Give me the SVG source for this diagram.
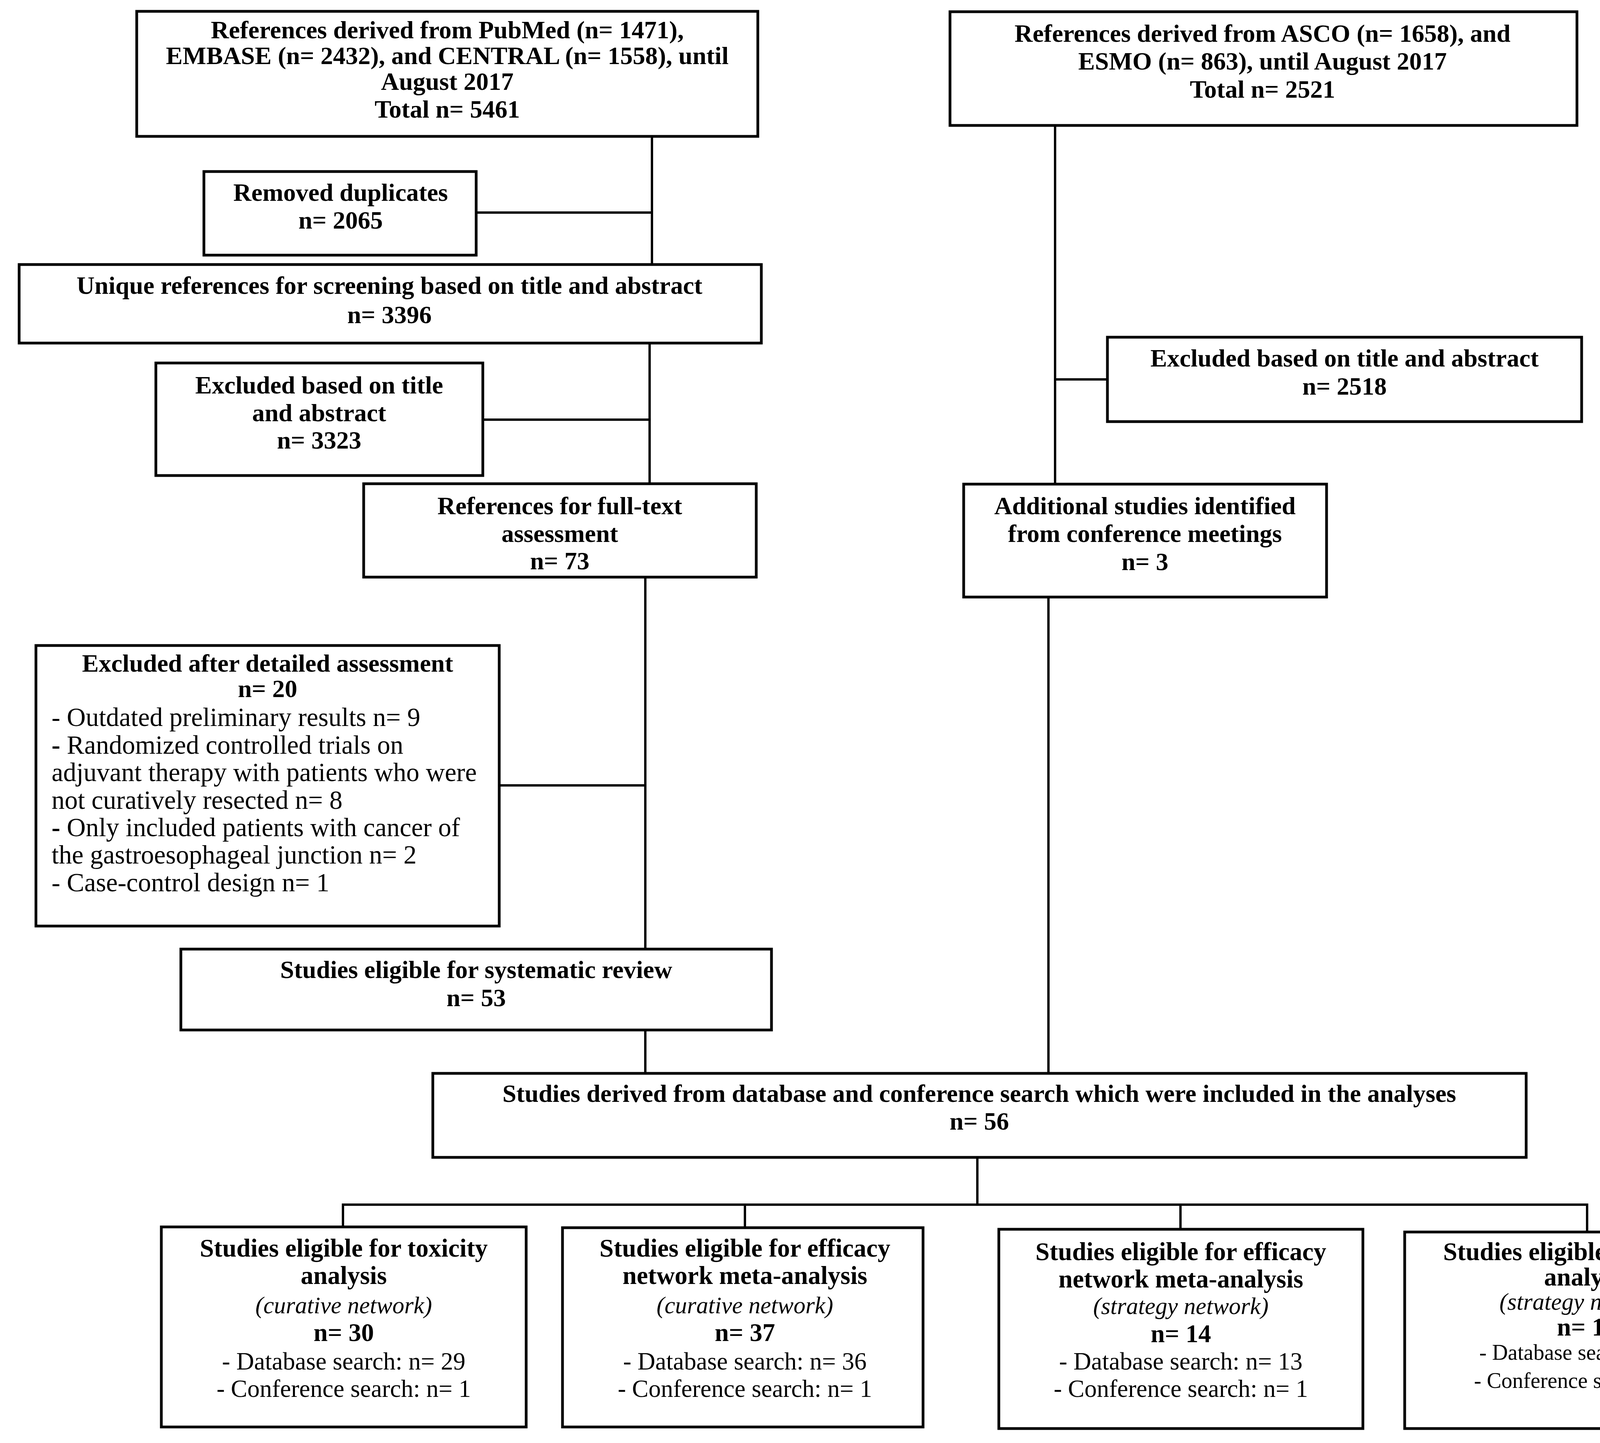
<svg xmlns="http://www.w3.org/2000/svg" width="4550" height="3693" viewBox="0 0 4550 3693">
<style>
.box{fill:#fff;stroke:#000;stroke-width:7}
.ln{stroke:#000;stroke-width:6;fill:none}
text{font-family:"Liberation Serif","Times New Roman",serif;fill:#000}
.b{font-weight:bold;font-size:64px;text-anchor:middle}
.r{font-weight:normal;font-size:67px}
.rc{font-weight:normal;font-size:63px;text-anchor:middle}
.rs{font-weight:normal;font-size:56px;text-anchor:middle}
.i{font-style:italic;font-weight:normal;font-size:61px;text-anchor:middle}
.bb{font-weight:bold;font-size:65px;text-anchor:middle}
</style>
<rect x="0" y="0" width="4550" height="3693" fill="#fff"/>
<g id="connectors">
<line class="ln" x1="1669" y1="350" x2="1669" y2="677"/>
<line class="ln" x1="1219" y1="544" x2="1669" y2="544"/>
<line class="ln" x1="1663" y1="878" x2="1663" y2="1238"/>
<line class="ln" x1="1236" y1="1074" x2="1663" y2="1074"/>
<line class="ln" x1="1652" y1="1477" x2="1652" y2="2428"/>
<line class="ln" x1="1278" y1="2010" x2="1652" y2="2010"/>
<line class="ln" x1="1652" y1="2636" x2="1652" y2="2747"/>
<line class="ln" x1="2701" y1="321" x2="2701" y2="1239"/>
<line class="ln" x1="2701" y1="971" x2="2835" y2="971"/>
<line class="ln" x1="2684" y1="1528" x2="2684" y2="2747"/>
<line class="ln" x1="2502" y1="2962" x2="2502" y2="3083"/>
<line class="ln" x1="875" y1="3083" x2="4066" y2="3083"/>
<line class="ln" x1="878" y1="3083" x2="878" y2="3140"/>
<line class="ln" x1="1907" y1="3083" x2="1907" y2="3142"/>
<line class="ln" x1="3022" y1="3083" x2="3022" y2="3146"/>
<line class="ln" x1="4063" y1="3083" x2="4063" y2="3153"/>
</g>
<g id="pubmed">
<rect class="box" x="350" y="29" width="1590" height="320"/>
<text class="b" x="1145" y="98">References derived from PubMed (n= 1471),</text>
<text class="b" x="1145" y="164">EMBASE (n= 2432), and CENTRAL (n= 1558), until</text>
<text class="b" x="1145" y="230">August 2017</text>
<text class="b" x="1145" y="301">Total n= 5461</text>
</g>
<g id="asco">
<rect class="box" x="2432" y="30" width="1605" height="291"/>
<text class="b" x="3232" y="107">References derived from ASCO (n= 1658), and</text>
<text class="b" x="3232" y="178">ESMO (n= 863), until August 2017</text>
<text class="b" x="3232" y="250">Total n= 2521</text>
</g>
<g id="duplicates">
<rect class="box" x="522" y="439" width="697" height="214"/>
<text class="b" x="872" y="514">Removed duplicates</text>
<text class="b" x="872" y="585">n= 2065</text>
</g>
<g id="unique">
<rect class="box" x="49" y="677" width="1900" height="201"/>
<text class="b" x="997" y="752">Unique references for screening based on title and abstract</text>
<text class="b" x="997" y="827">n= 3396</text>
</g>
<g id="excluded-title-left">
<rect class="box" x="399" y="929" width="837" height="288"/>
<text class="b" x="817" y="1007">Excluded based on title</text>
<text class="b" x="817" y="1078">and abstract</text>
<text class="b" x="817" y="1148">n= 3323</text>
</g>
<g id="excluded-title-right">
<rect class="box" x="2835" y="863" width="1214" height="216"/>
<text class="b" x="3442" y="938">Excluded based on title and abstract</text>
<text class="b" x="3442" y="1010">n= 2518</text>
</g>
<g id="fulltext">
<rect class="box" x="931" y="1238" width="1005" height="239"/>
<text class="b" x="1433" y="1316">References for full-text</text>
<text class="b" x="1433" y="1387">assessment</text>
<text class="b" x="1433" y="1457">n= 73</text>
</g>
<g id="additional">
<rect class="box" x="2467" y="1239" width="929" height="289"/>
<text class="b" x="2931" y="1316">Additional studies identified</text>
<text class="b" x="2931" y="1387">from conference meetings</text>
<text class="b" x="2931" y="1459">n= 3</text>
</g>
<g id="excluded-detailed">
<rect class="box" x="92" y="1652" width="1186" height="718"/>
<text class="b" x="685" y="1719">Excluded after detailed assessment</text>
<text class="b" x="685" y="1784">n= 20</text>
<text class="r" x="132" y="1858">- Outdated preliminary results n= 9</text>
<text class="r" x="132" y="1929"><tspan font-weight="bold">-</tspan> Randomized controlled trials on</text>
<text class="r" x="132" y="1999">adjuvant therapy with patients who were</text>
<text class="r" x="132" y="2070">not curatively resected n= 8</text>
<text class="r" x="132" y="2140"><tspan font-weight="bold">-</tspan> Only included patients with cancer of</text>
<text class="r" x="132" y="2210">the gastroesophageal junction n= 2</text>
<text class="r" x="132" y="2281">- Case-control design n= 1</text>
</g>
<g id="systematic">
<rect class="box" x="463" y="2429" width="1512" height="207"/>
<text class="b" x="1219" y="2503">Studies eligible for systematic review</text>
<text class="b" x="1219" y="2575">n= 53</text>
</g>
<g id="included">
<rect class="box" x="1108" y="2747" width="2799" height="215"/>
<text class="b" x="2507" y="2820">Studies derived from database and conference search which were included in the analyses</text>
<text class="b" x="2507" y="2891">n= 56</text>
</g>
<g id="tox-curative">
<rect class="box" x="413" y="3140" width="934" height="512"/>
<text class="bb" x="880" y="3216">Studies eligible for toxicity</text>
<text class="bb" x="880" y="3286">analysis</text>
<text class="i" x="880" y="3361">(curative network)</text>
<text class="bb" x="880" y="3432">n= 30</text>
<text class="rc" x="880" y="3505">- Database search: n= 29</text>
<text class="rc" x="880" y="3575">- Conference search: n= 1</text>
</g>
<g id="eff-curative">
<rect class="box" x="1440" y="3142" width="923" height="510"/>
<text class="bb" x="1907" y="3216">Studies eligible for efficacy</text>
<text class="bb" x="1907" y="3286">network meta-analysis</text>
<text class="i" x="1907" y="3361">(curative network)</text>
<text class="bb" x="1907" y="3432">n= 37</text>
<text class="rc" x="1907" y="3505">- Database search: n= 36</text>
<text class="rc" x="1907" y="3575">- Conference search: n= 1</text>
</g>
<g id="eff-strategy">
<rect class="box" x="2557" y="3146" width="932" height="510"/>
<text class="bb" x="3023" y="3225">Studies eligible for efficacy</text>
<text class="bb" x="3023" y="3295">network meta-analysis</text>
<text class="i" x="3023" y="3363">(strategy network)</text>
<text class="bb" x="3023" y="3435">n= 14</text>
<text class="rc" x="3023" y="3505">- Database search: n= 13</text>
<text class="rc" x="3023" y="3575">- Conference search: n= 1</text>
</g>
<g id="tox-strategy">
<rect class="box" x="3596" y="3153" width="936" height="503"/>
<text class="bb" x="4063" y="3225">Studies eligible for toxicity</text>
<text class="bb" x="4063" y="3290">analysis</text>
<text class="i" x="4063" y="3352">(strategy network)</text>
<text class="bb" x="4063" y="3418">n= 12</text>
<text class="rs" x="4063" y="3480">- Database search: n= 11</text>
<text class="rs" x="4063" y="3552">- Conference search: n= 1</text>
</g>
</svg>
